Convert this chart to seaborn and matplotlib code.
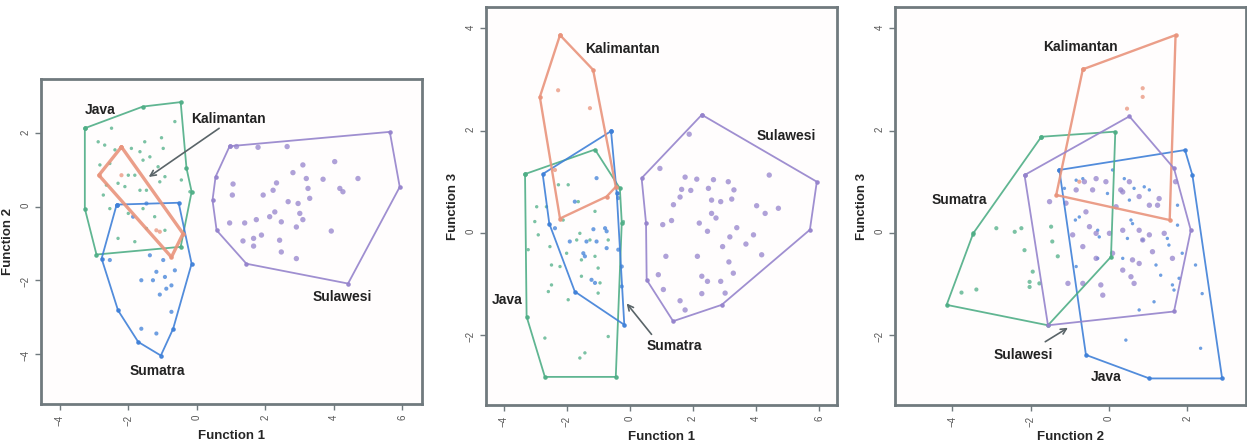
import pandas as pd
import seaborn as sns
import matplotlib.pyplot as plt

# Colours of the four island groups (panel 3 swaps Java / Sumatra colours as in the original)
green = "#4fae86"
blue = "#3f80d8"
salmon = "#e9947c"
purple = "#9583cc"

# ---------------- Panel 1: Function 1 vs Function 2 ----------------
p1_java_pts = [(-2.49, 2.14), (-0.64, 2.32), (-2.88, 1.77), (-2.69, 1.68), (-2.39, 1.55), (-1.91, 1.59),
               (-1.52, 1.77), (-1.03, 1.88), (-0.98, 1.59), (-1.66, 1.50), (-1.37, 1.36), (-1.57, 1.27),
               (-2.00, 0.86), (-1.81, 0.86), (-2.83, 1.14), (-2.54, 1.18), (-1.13, 1.09), (-0.93, 0.82),
               (-2.64, 0.59), (-2.30, 0.64), (-2.10, 0.55), (-1.66, 0.45), (-1.47, 0.45), (-1.08, 0.68),
               (-0.45, 0.73), (-0.20, 0.41), (-2.73, 0.32), (-2.54, -0.05), (-2.00, -0.18), (-1.57, -0.05),
               (-1.23, -0.27), (-1.47, -0.59), (-2.30, -0.86), (-1.81, -0.95), (-0.93, -0.64)]
p1_sumatra_pts = [(-2.54, -1.45), (-1.37, -1.32), (-0.98, -1.45), (-0.64, -1.73), (-1.18, -1.77), (-0.93, -1.91),
                  (-1.62, -2.00), (-1.28, -2.00), (-0.74, -2.14), (-0.89, -2.23), (-1.08, -2.39), (-0.74, -2.86),
                  (-1.62, -3.32), (-1.18, -3.45), (-1.86, -0.27), (-1.47, 0.09)]
p1_kalimantan_pts = [(-2.20, 0.86), (-1.08, -0.68), (-1.18, -0.64)]
p1_sulawesi_pts = [(3.10, 1.14), (4.03, 1.23), (2.81, 0.93), (3.20, 0.77), (3.69, 0.75), (4.71, 0.77),
                   (2.33, 0.65), (1.06, 0.62), (1.04, 0.32), (1.94, 0.32), (2.23, 0.45), (3.25, 0.50),
                   (3.30, 0.23), (4.18, 0.50), (4.27, 0.41), (2.67, 0.14), (2.96, 0.09), (2.13, -0.27),
                   (2.28, -0.14), (3.01, -0.18), (3.10, -0.35), (0.96, -0.44), (1.40, -0.44), (1.74, -0.35),
                   (2.47, -0.41), (2.91, -0.55), (3.93, -0.66), (1.35, -0.93), (1.66, -0.86), (1.89, -0.77),
                   (2.42, -0.91), (2.47, -1.23), (2.91, -1.41), (1.66, -1.07), (1.16, 1.64), (1.79, 1.62),
                   (2.64, 1.64)]
p1_java_hull = [(-3.27, 2.14), (-1.57, 2.73), (-0.47, 2.85), (-0.30, 1.05), (-0.15, 0.41), (-0.47, -1.09),
                (-2.93, -1.30), (-3.27, -0.05)]
p1_sumatra_hull = [(-2.34, 0.06), (-0.53, 0.11), (-0.15, -1.55), (-0.69, -3.32), (-1.05, -4.05), (-1.71, -3.68),
                   (-2.30, -2.82), (-2.78, -1.41)]
p1_kalimantan_hull = [(-2.20, 1.63), (-2.86, 0.86), (-0.74, -1.37), (-0.40, -0.73)]
p1_sulawesi_hull = [(0.96, 1.65), (5.64, 2.04), (5.93, 0.54), (4.42, -2.09), (1.45, -1.55), (0.58, -0.64),
                    (0.46, 0.18), (0.55, 0.82)]

# ---------------- Panel 2: Function 1 vs Function 3 ----------------
p2_java_pts = [(-2.27, 0.94), (-1.96, 0.94), (-2.96, 0.51), (-2.65, 0.51), (-3.02, 0.22), (-2.91, -0.04),
               (-2.12, 0.25), (-1.64, 0.61), (-1.11, 0.42), (-3.23, -0.33), (-2.54, -0.27), (-1.69, -0.14),
               (-1.59, -0.01), (-1.27, -0.14), (-0.69, -0.14), (-2.01, -0.40), (-1.54, -0.53), (-1.11, -0.46),
               (-2.49, -0.63), (-2.22, -0.66), (-1.54, -0.85), (-1.01, -0.69), (-0.95, -0.98), (-2.49, -1.02),
               (-1.96, -1.31), (-2.59, -1.15), (-1.01, -1.18), (-2.70, -2.06), (-0.69, -2.03), (-1.43, -2.35),
               (-1.59, -2.45), (-0.21, 0.22)]
p2_sumatra_pts = [(-1.06, 1.07), (-1.75, 0.61), (-2.38, 0.09), (-1.16, 0.07), (-0.79, 0.09), (-0.74, 0.03),
                  (-1.91, -0.17), (-1.38, -0.17), (-1.06, -0.17), (-0.74, -0.30), (-1.48, -0.40), (-1.43, -0.46),
                  (-0.37, -0.33), (-0.26, -0.66), (-1.22, -0.92), (-1.11, -0.98), (-0.37, 0.68), (-0.26, -1.05)]
p2_kalimantan_pts = [(-2.28, 2.79), (-1.27, 2.44), (-2.38, 1.23)]
p2_sulawesi_pts = [(1.88, 1.93), (0.95, 1.26), (1.75, 1.09), (2.12, 1.05), (2.65, 1.04), (3.12, 1.00),
                   (1.64, 0.85), (1.93, 0.83), (2.49, 0.87), (3.30, 0.84), (1.59, 0.70), (2.59, 0.64),
                   (2.88, 0.61), (3.23, 0.66), (1.38, 0.55), (4.02, 0.53), (4.29, 0.38), (4.71, 0.48),
                   (4.42, 1.13), (2.59, 0.38), (2.73, 0.29), (1.04, 0.16), (1.32, 0.24), (2.20, 0.19),
                   (2.46, 0.03), (3.39, 0.10), (3.17, -0.08), (3.92, -0.04), (3.68, -0.22), (2.94, -0.27),
                   (1.14, -0.46), (2.14, -0.46), (3.14, -0.57), (4.18, -0.43), (0.90, -0.82), (2.28, -0.85),
                   (2.46, -0.95), (2.88, -0.95), (3.28, -0.79), (1.06, -1.11), (2.28, -1.19), (3.02, -1.18),
                   (1.59, -1.33), (1.75, -1.51)]
p2_java_hull = [(-3.33, 1.15), (-1.11, 1.63), (-0.32, 0.87), (-0.26, 0.20), (-0.45, -2.82), (-2.70, -2.82),
                (-3.28, -1.64)]
p2_sumatra_hull = [(-0.60, 1.99), (-0.42, 0.78), (-0.18, -1.80), (-1.75, -1.15), (-2.56, 0.18), (-2.77, 1.15)]
p2_kalimantan_hull = [(-2.22, 3.87), (-1.17, 3.19), (-0.45, 0.90), (-0.74, 0.71), (-2.22, 0.28), (-2.86, 2.66)]
p2_sulawesi_hull = [(2.28, 2.31), (5.93, 1.00), (5.71, 0.06), (2.91, -1.41), (1.37, -1.73), (0.53, -0.92),
                    (0.51, 0.19), (0.37, 1.07)]

# ---------------- Panel 3: Function 2 vs Function 3 ----------------
p3_sumatra_pts = [(-3.47, -0.04), (-2.88, 0.09), (-2.41, 0.02), (-2.24, 0.09), (-2.16, -0.34), (-1.95, -0.76),
                  (-2.03, -0.96), (-2.03, -1.06), (-1.78, -0.99), (-3.77, -1.17), (-3.39, -1.11),
                  (-1.48, 0.12), (-1.45, -0.17), (-1.31, -0.46)]
p3_java_pts = [(-1.14, 0.87), (-0.84, 1.03), (-0.67, 1.06), (-0.04, 0.77), (0.09, 1.23), (0.39, 1.06),
               (0.52, 0.64), (0.64, 0.87), (0.90, 0.90), (1.03, 0.84), (0.56, 0.25), (0.60, 0.18),
               (0.47, -0.11), (0.35, -0.50), (0.86, -0.14), (1.20, -0.63), (1.32, -0.83), (1.49, -0.11),
               (1.53, -0.24), (1.62, -1.02), (1.66, -1.12), (1.75, 0.15), (1.75, 0.54), (1.87, -0.40),
               (2.21, -0.63), (2.38, -1.19), (2.34, -2.26), (0.43, -2.10), (0.77, -1.51), (-0.84, -0.66),
               (-0.29, 0.05), (-0.25, -0.08), (-0.29, -0.50), (-0.86, 0.25), (-0.76, 0.31), (1.15, -1.35),
               (1.79, -0.89)]
p3_kalimantan_pts = [(0.86, 2.83), (0.86, 2.66), (0.46, 2.43), (-0.76, 1.00)]
p3_sulawesi_pts = [(-0.84, 0.84), (-0.63, 1.00), (-0.33, 1.06), (-0.42, 0.84), (-0.08, 1.00), (0.30, 0.84),
                   (0.35, 0.80), (0.52, 1.00), (0.77, 0.71), (1.03, 0.54), (1.24, 0.54), (0.18, 0.51),
                   (-0.59, 0.41), (-1.10, 0.58), (-1.52, 0.61), (-0.50, 0.12), (-0.93, -0.04), (-0.33, -0.01),
                   (0.01, -0.01), (0.35, 0.05), (0.77, 0.05), (0.86, -0.14), (1.03, -0.04), (1.41, -0.01),
                   (0.09, -0.40), (0.60, -0.53), (0.77, -0.60), (0.56, -0.86), (0.64, -0.99), (-0.21, -1.02),
                   (-0.67, -0.99), (-1.05, -0.99), (-0.16, -1.22), (-0.33, -0.50), (-0.67, -0.27), (1.62, -0.50),
                   (1.11, -0.37), (0.35, -0.73), (1.28, 0.67), (1.70, 1.00)]
p3_java_hull = [(-1.27, 1.23), (1.94, 1.62), (2.13, 1.13), (2.89, -2.85), (1.03, -2.85), (-0.59, -2.39)]
p3_sumatra_hull = [(-1.73, 1.88), (0.16, 1.98), (0.05, -0.47), (-1.56, -1.81), (-4.15, -1.41), (-3.47, -0.01)]
p3_kalimantan_hull = [(-0.67, 3.20), (1.70, 3.87), (1.55, 0.25), (-1.35, 0.74)]
p3_sulawesi_hull = [(-2.16, 1.13), (0.52, 2.28), (1.66, 1.26), (2.09, 0.05), (1.66, -1.54), (-1.56, -1.81)]

# Group labels (text, x, y) and arrows (head, tail)
p1_labels = [("Java", -2.83, 2.64), ("Kalimantan", 0.93, 2.38), ("Sumatra", -1.15, -4.48), ("Sulawesi", 4.25, -2.46)]
p1_arrows = [((-1.47, 0.77), (0.72, 2.18))]
p2_labels = [("Kalimantan", -0.24, 3.59), ("Sulawesi", 4.95, 1.90), ("Java", -3.90, -1.31), ("Sumatra", 1.40, -2.22)]
p2_arrows = [((-0.16, -1.34), (0.74, -2.03))]
p3_labels = [("Kalimantan", -0.74, 3.64), ("Sumatra", -3.83, 0.65), ("Sulawesi", -2.19, -2.39), ("Java", -0.08, -2.83)]
p3_arrows = [((-0.99, -1.83), (-1.69, -2.16))]

sns.set_style("white")
plt.rcParams["font.family"] = ["Liberation Sans", "DejaVu Sans"]

sizes = {"Java": 6, "Sumatra": 9, "Kalimantan": 9, "Sulawesi": 15}


def draw_panel(ax, pts, hulls, pal, labels, arrows, xlim, ylim, xticks, yticks, xlabel, ylabel, kal_lw):
    rows = []
    for g, lst in pts.items():
        for x, y in lst:
            rows.append({"group": g, "x": x, "y": y})
    df = pd.DataFrame(rows)
    sns.scatterplot(data=df, x="x", y="y", hue="group", palette=pal, size="group", sizes=sizes,
                    linewidth=0, alpha=0.75, legend=False, ax=ax)
    for g, hull in hulls.items():
        hx = [p[0] for p in hull] + [hull[0][0]]
        hy = [p[1] for p in hull] + [hull[0][1]]
        lw = kal_lw if g == "Kalimantan" else 1.3
        ax.plot(hx, hy, color=pal[g], lw=lw, alpha=0.9, marker="o", ms=2.3, zorder=3)
    for text, x, y in labels:
        ax.text(x, y, text, ha="center", va="center", fontsize=10, fontweight="bold", color="#222222", zorder=5)
    for head, tail in arrows:
        ax.annotate("", xy=head, xytext=tail,
                    arrowprops=dict(arrowstyle="->", color="#5a6468", lw=1.2), zorder=5)
    ax.set_xlim(*xlim)
    ax.set_ylim(*ylim)
    ax.set_xticks(xticks)
    ax.set_yticks(yticks)
    ax.set_xlabel(xlabel, fontsize=9.5, fontweight="bold", labelpad=3)
    ax.set_ylabel(ylabel, fontsize=9.5, fontweight="bold", labelpad=5)
    ax.set_facecolor("#fffdfd")
    for s in ax.spines.values():
        s.set_color("#707a7e")
        s.set_linewidth(2)
    ax.tick_params(axis="both", labelrotation=90, labelsize=7, length=4, width=1,
                   color="#707a7e", labelcolor="#555555", direction="out", bottom=True, left=True)


fig = plt.figure(figsize=(12.47, 4.45), dpi=100)
ax1 = fig.add_axes([0.0329, 0.0921, 0.3055, 0.7304])
ax2 = fig.add_axes([0.3897, 0.0899, 0.2815, 0.8944])
ax3 = fig.add_axes([0.7177, 0.0899, 0.2815, 0.8944])

pal12 = {"Java": green, "Sumatra": blue, "Kalimantan": salmon, "Sulawesi": purple}
pal3 = {"Java": blue, "Sumatra": green, "Kalimantan": salmon, "Sulawesi": purple}

draw_panel(ax1,
           {"Java": p1_java_pts, "Sumatra": p1_sumatra_pts, "Kalimantan": p1_kalimantan_pts, "Sulawesi": p1_sulawesi_pts},
           {"Java": p1_java_hull, "Sumatra": p1_sumatra_hull, "Kalimantan": p1_kalimantan_hull, "Sulawesi": p1_sulawesi_hull},
           pal12, p1_labels, p1_arrows, (-4.55, 6.58), (-5.37, 3.48),
           [-4, -2, 0, 2, 4, 6], [-4, -2, 0, 2], "Function 1", "Function 2", 2.4)
draw_panel(ax2,
           {"Java": p2_java_pts, "Sumatra": p2_sumatra_pts, "Kalimantan": p2_kalimantan_pts, "Sulawesi": p2_sulawesi_pts},
           {"Java": p2_java_hull, "Sumatra": p2_sumatra_hull, "Kalimantan": p2_kalimantan_hull, "Sulawesi": p2_sulawesi_hull},
           pal12, p2_labels, p2_arrows, (-4.57, 6.57), (-3.37, 4.42),
           [-4, -2, 0, 2, 4, 6], [-2, 0, 2, 4], "Function 1", "Function 3", 1.7)
draw_panel(ax3,
           {"Java": p3_java_pts, "Sumatra": p3_sumatra_pts, "Kalimantan": p3_kalimantan_pts, "Sulawesi": p3_sulawesi_pts},
           {"Java": p3_java_hull, "Sumatra": p3_sumatra_hull, "Kalimantan": p3_kalimantan_hull, "Sulawesi": p3_sulawesi_hull},
           pal3, p3_labels, p3_arrows, (-5.47, 3.50), (-3.37, 4.42),
           [-4, -2, 0, 2], [-2, 0, 2, 4], "Function 2", "Function 3", 1.7)

fig.savefig("out.png", dpi=100)
